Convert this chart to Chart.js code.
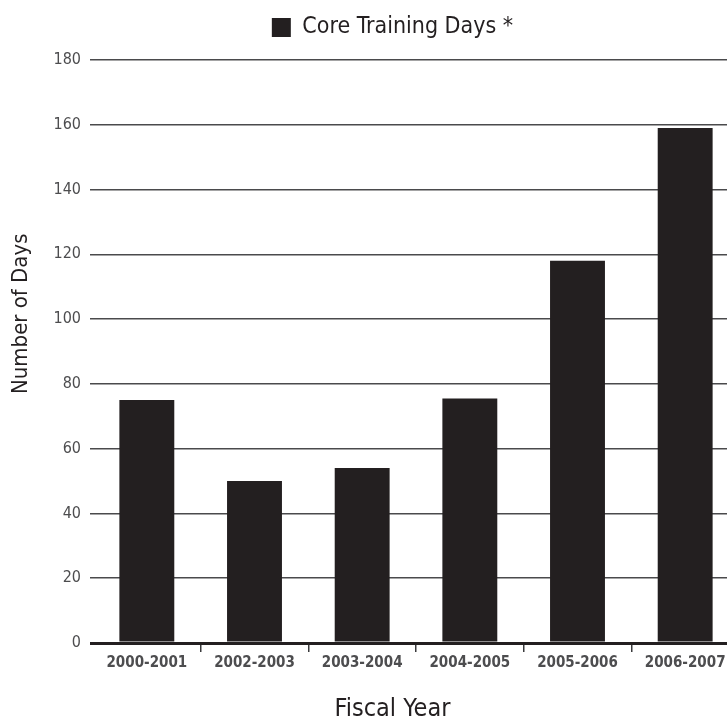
<!DOCTYPE html>
<html>
<head>
<meta charset="utf-8">
<title>Core Training Days</title>
<script src="https://cdn.jsdelivr.net/npm/chart.js@4.4.1/dist/chart.umd.min.js"></script>
<style>
  html, body { margin: 0; padding: 0; background: #fff; overflow: hidden; }
  #wrap { width: 739px; height: 724px; }
</style>
</head>
<body>
<div id="wrap"><canvas id="chart" width="739" height="724"></canvas></div>
<script>
// Core Training Days by fiscal year

const fiscalYears = ['2000-2001', '2002-2003', '2003-2004', '2004-2005', '2005-2006', '2006-2007'];
const trainingDays = [75, 50, 54, 75.5, 118, 159];
const yTicks = [0, 20, 40, 60, 80, 100, 120, 140, 160, 180];

const INK = '#231f20';
const GREY = '#4d4d4f';
const FONT = "'Liberation Sans Narrow', 'DejaVu Sans Condensed', 'Arial Narrow', sans-serif";

Chart.defaults.font.family = FONT;
Chart.defaults.color = GREY;

// push the plot down a little below the legend
const legendGap = {
  id: 'legendGap',
  beforeInit(chart) {
    const fit = chart.legend.fit;
    chart.legend.fit = function () {
      fit.call(this);
      this.height += 11;
    };
  }
};

new Chart(document.getElementById('chart'), {
  type: 'bar',
  data: {
    labels: fiscalYears,
    datasets: [{
      label: 'Core Training Days *',
      data: trainingDays,
      backgroundColor: INK,
      borderWidth: 0,
      barPercentage: 0.51,
      categoryPercentage: 1.0,
    }]
  },
  plugins: [legendGap],
  options: {
    responsive: false,
    devicePixelRatio: 1,
    animation: false,
    // left padding keeps legend and "Fiscal Year" centred like the original
    layout: { padding: { top: 6, right: 0, bottom: 0, left: 46 } },
    plugins: {
      legend: {
        display: true,
        position: 'top',
        labels: {
          color: INK,
          font: { size: 23 },
          boxWidth: 19,
          boxHeight: 19,
          padding: 10,
        }
      },
      title: {
        display: true,
        position: 'bottom',
        text: 'Fiscal Year',
        color: INK,
        font: { size: 25, weight: 'normal' },
        padding: { top: 11, bottom: 0 },
      },
      tooltip: { enabled: false }
    },
    scales: {
      x: {
        grid: {
          display: true,
          drawOnChartArea: false,
          drawTicks: true,
          tickLength: 9,
          lineWidth: 1.5,
          color: ctx => ctx.index === 0 ? 'rgba(0,0,0,0)' : '#3a3a3c',
        },
        border: { display: false },
        ticks: {
          color: GREY,
          font: { size: 15, weight: 'bold' },
          padding: 2,
          autoSkip: false,
          maxRotation: 0,
        },
        afterFit: scale => { scale.height = 40; }
      },
      y: {
        min: 0,
        max: 180,
        afterBuildTicks: scale => { scale.ticks = yTicks.map(v => ({ value: v })); },
        grid: {
          color: ctx => ctx.tick && ctx.tick.value === 0 ? INK : '#4a4a4c',
          lineWidth: ctx => ctx.tick && ctx.tick.value === 0 ? 3 : 1.5,
          tickLength: 3,
        },
        border: { display: false },
        ticks: {
          color: GREY,
          font: { size: 16 },
          padding: 9,
        },
        title: {
          display: true,
          text: '            Number of Days',
          color: INK,
          font: { size: 22 },
          padding: { top: -38, bottom: 0 },
        },
        afterFit: scale => { scale.width = 47; }
      }
    }
  }
});
</script>
</body>
</html>
